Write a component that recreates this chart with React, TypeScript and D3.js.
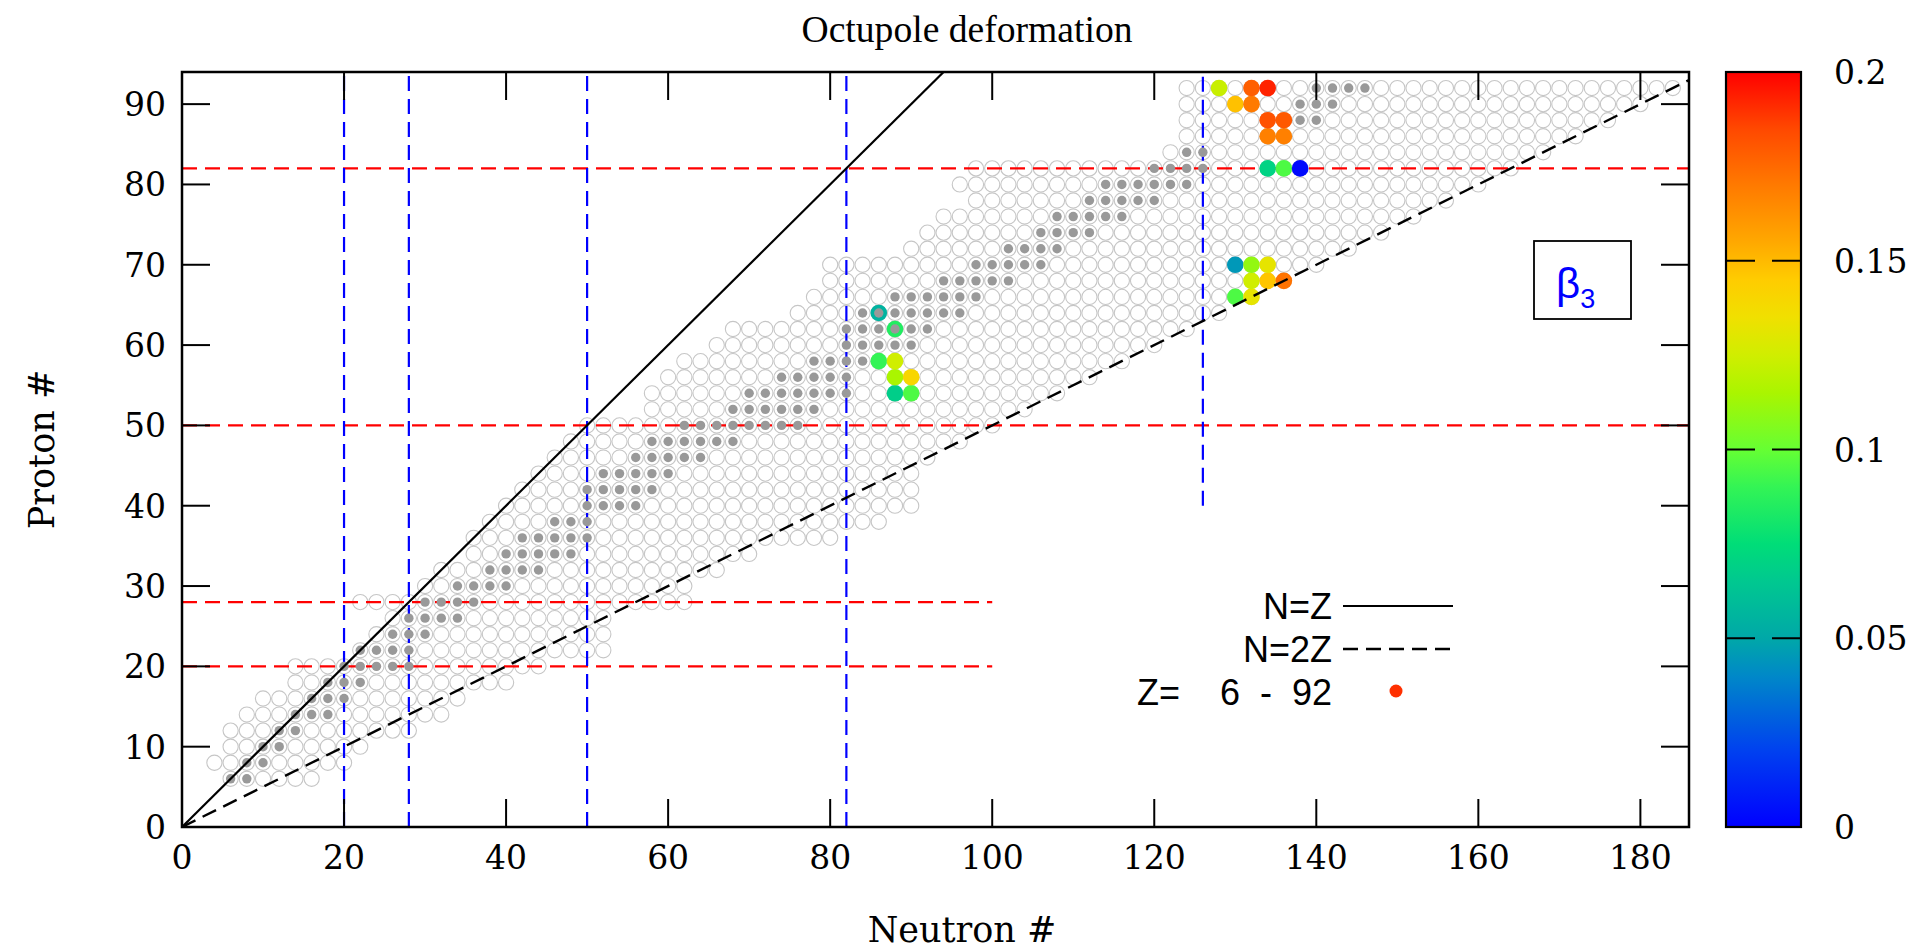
import React from 'react';
import * as d3 from 'd3';

// ---------- DATA ----------
const Z_VALUES = [6, 8, 10, 12, 14, 16, 18, 20, 22, 24, 26, 28, 30, 32, 34, 36, 38, 40, 42, 44, 46, 48, 50, 52, 54, 56, 58, 60, 62, 64, 66, 68, 70, 72, 74, 76, 78, 80, 82, 84, 86, 88, 90, 92];
const N_MIN = [6, 4, 6, 6, 8, 10, 14, 14, 22, 24, 26, 22, 30, 32, 36, 36, 38, 40, 42, 44, 46, 48, 50, 58, 58, 60, 62, 66, 68, 76, 78, 80, 80, 90, 92, 94, 98, 96, 98, 122, 124, 124, 124, 124];
const N_MAX = [16, 20, 22, 28, 32, 34, 40, 44, 52, 52, 52, 62, 62, 66, 70, 80, 86, 90, 90, 90, 92, 96, 100, 104, 108, 112, 116, 120, 124, 128, 132, 136, 140, 144, 148, 152, 156, 160, 164, 168, 172, 176, 180, 184];
const STABLE_N: number[][] = [
  [6, 8], [8, 10], [10, 12], [12, 14], [14, 16, 18], [16, 18, 20], [18, 20, 22],
  [20, 22, 24, 26, 28], [22, 24, 26, 28], [26, 28, 30], [28, 30, 32, 34], [30, 32, 34, 36],
  [34, 36, 38, 40], [38, 40, 42, 44], [40, 42, 44, 46, 48], [42, 44, 46, 48, 50], [46, 48, 50],
  [50, 52, 54, 56], [50, 52, 54, 56, 58], [52, 54, 56, 58, 60], [56, 58, 60, 62, 64],
  [58, 60, 62, 64, 66, 68], [62, 64, 66, 68, 70, 72, 74, 76], [68, 70, 72, 74, 76, 78],
  [70, 72, 74, 76, 78, 80, 82], [74, 76, 78, 80, 82], [78, 80, 82, 84], [82, 84, 86, 88, 90],
  [82, 84, 86, 88, 90, 92], [84, 86, 88, 90, 92, 94, 96], [88, 90, 92, 94, 96, 98],
  [94, 96, 98, 100, 102], [98, 100, 102, 104, 106], [102, 104, 106, 108], [106, 108, 110, 112],
  [108, 110, 112, 114, 116], [112, 114, 116, 118, 120], [114, 116, 118, 120, 122, 124],
  [120, 122, 124, 126], [124, 126], [], [138, 140], [138, 140, 142], [140, 142, 144, 146],
];

const BETA3_Z = [54, 54, 56, 56, 58, 58, 62, 64, 66, 66, 68, 68, 68, 70, 70, 70, 82, 82, 82, 86, 86, 88, 88, 90, 90, 92, 92, 92];
const BETA3_N = [88, 90, 88, 90, 86, 88, 88, 86, 130, 132, 132, 134, 136, 130, 132, 134, 134, 136, 138, 134, 136, 134, 136, 130, 132, 128, 132, 134];
const BETA3_VAL = [0.068, 0.095, 0.115, 0.14, 0.09, 0.125, 0.085, 0.055, 0.095, 0.132, 0.125, 0.147, 0.172, 0.045, 0.11, 0.132, 0.07, 0.095, 0.003, 0.168, 0.168, 0.182, 0.18, 0.148, 0.17, 0.123, 0.178, 0.193];

const X_TICKS = [0, 20, 40, 60, 80, 100, 120, 140, 160, 180];
const Y_TICKS = [0, 10, 20, 30, 40, 50, 60, 70, 80, 90];
const CB_TICKS = [0, 0.05, 0.1, 0.15, 0.2];
const CB_TICK_LABELS = ['0', '0.05', '0.1', '0.15', '0.2'];
const CB_STOPS = [0, 0.02, 0.04, 0.05, 0.065, 0.075, 0.09, 0.1, 0.115, 0.125, 0.135, 0.145, 0.155, 0.17, 0.185, 0.2];
const CB_COLORS = ['#0000ff', '#0040f0', '#0088c8', '#00a8a8', '#00c890', '#00dd78', '#33f455', '#66ff33', '#aaf500', '#d0ee00', '#f0e000', '#ffcc00', '#ffa800', '#ff7a00', '#ff4800', '#ff0000'];

const MAGIC_Z_FULL = [50, 82];
const MAGIC_Z_PART = [20, 28];
const MAGIC_Z_PART_END = 100;
const MAGIC_N_FULL = [20, 28, 50, 82];
const MAGIC_N_PART = [126];
const MAGIC_N_PART_START = 40;

const LEGEND_LABELS = ['N=Z', 'N=2Z', 'Z=    6  -  92'];

export default function App() {
  const W = 1920, H = 949;
  const L = 182, R = 1689, T = 72, B = 827;
  const x = d3.scaleLinear().domain([0, 186]).range([L, R]);
  const y = d3.scaleLinear().domain([0, 94]).range([B, T]);
  const color = d3.scaleLinear<string>().domain(CB_STOPS).range(CB_COLORS).interpolate(d3.interpolateRgb);

  const open: { n: number; z: number }[] = [];
  Z_VALUES.forEach((z, i) => {
    for (let n = N_MIN[i]; n <= N_MAX[i]; n += 2) open.push({ n, z });
  });
  const stable: { n: number; z: number }[] = [];
  Z_VALUES.forEach((z, i) => STABLE_N[i].forEach((n) => stable.push({ n, z })));
  const colored = BETA3_Z.map((z, i) => ({ z, n: BETA3_N[i], v: BETA3_VAL[i] }));

  const line = d3.line<[number, number]>().x((d) => x(d[0])).y((d) => y(d[1]));

  const cbL = 1726, cbR = 1801;
  const cb = d3.scaleLinear().domain([0, 0.2]).range([B, T]);

  const serif = 'DejaVu Serif';
  const sans = 'Liberation Sans, Arial, sans-serif';
  const dash = '15,8';

  return (
    <svg width={W} height={H} style={{ position: 'fixed', left: 0, top: 0, background: '#fff' }}>
      <defs>
        <clipPath id="plotclip">
          <rect x={L} y={T} width={R - L} height={B - T} />
        </clipPath>
        <linearGradient id="cbgrad" x1="0" y1="1" x2="0" y2="0">
          {CB_STOPS.map((s, i) => (
            <stop key={i} offset={`${(s / 0.2) * 100}%`} stopColor={CB_COLORS[i]} />
          ))}
        </linearGradient>
      </defs>
      <rect x={0} y={0} width={W} height={H} fill="#fff" />

      <text x={967} y={42} fontFamily="Liberation Serif" fontSize={38} textAnchor="middle" textLength={331} lengthAdjust="spacingAndGlyphs">Octupole deformation</text>

      <g clipPath="url(#plotclip)">
        {open.map((d, i) => (
          <circle key={'o' + i} cx={x(d.n)} cy={y(d.z)} r={7.6} fill="none" stroke="#c6c6c6" strokeWidth={1.1} />
        ))}
        {MAGIC_Z_FULL.map((z) => (
          <line key={'zf' + z} x1={x(0)} x2={x(186)} y1={y(z)} y2={y(z)} stroke="#ff0000" strokeWidth={2.2} strokeDasharray={dash} />
        ))}
        {MAGIC_Z_PART.map((z) => (
          <line key={'zp' + z} x1={x(0)} x2={x(MAGIC_Z_PART_END)} y1={y(z)} y2={y(z)} stroke="#ff0000" strokeWidth={2.2} strokeDasharray={dash} />
        ))}
        {MAGIC_N_FULL.map((n) => (
          <line key={'nf' + n} x1={x(n)} x2={x(n)} y1={y(0)} y2={y(94)} stroke="#0000ff" strokeWidth={2.2} strokeDasharray={dash} />
        ))}
        {MAGIC_N_PART.map((n) => (
          <line key={'np' + n} x1={x(n)} x2={x(n)} y1={y(MAGIC_N_PART_START)} y2={y(94)} stroke="#0000ff" strokeWidth={2.2} strokeDasharray={dash} />
        ))}
        {colored.map((d, i) => (
          <circle key={'c' + i} cx={x(d.n)} cy={y(d.z)} r={8.3} fill={color(d.v)} />
        ))}
        {stable.map((d, i) => (
          <circle key={'s' + i} cx={x(d.n)} cy={y(d.z)} r={4.7} fill="#999999" />
        ))}
        <path d={line([[0, 0], [94, 94]]) || ''} stroke="#000" strokeWidth={2.2} fill="none" />
        <path d={line([[0, 0], [186, 93]]) || ''} stroke="#000" strokeWidth={2.4} fill="none" strokeDasharray={dash} />
      </g>

      {/* frame and ticks */}
      <rect x={L} y={T} width={R - L} height={B - T} fill="none" stroke="#000" strokeWidth={2.5} />
      {X_TICKS.map((t) => (
        <g key={'xt' + t}>
          <line x1={x(t)} x2={x(t)} y1={B} y2={B - 28} stroke="#000" strokeWidth={2} />
          <line x1={x(t)} x2={x(t)} y1={T} y2={T + 28} stroke="#000" strokeWidth={2} />
          <text x={x(t)} y={869} fontFamily={serif} fontSize={33} textAnchor="middle">{t}</text>
        </g>
      ))}
      {Y_TICKS.map((t) => (
        <g key={'yt' + t}>
          <line x1={L} x2={L + 28} y1={y(t)} y2={y(t)} stroke="#000" strokeWidth={2} />
          <line x1={R} x2={R - 28} y1={y(t)} y2={y(t)} stroke="#000" strokeWidth={2} />
          <text x={166} y={y(t) + 12} fontFamily={serif} fontSize={33} textAnchor="end">{t}</text>
        </g>
      ))}
      <text x={962} y={942} fontFamily={serif} fontSize={35} textAnchor="middle">Neutron #</text>
      <text transform={`translate(54,${(T + B) / 2}) rotate(-90)`} fontFamily={serif} fontSize={35} textAnchor="middle">Proton #</text>

      {/* legend */}
      <text x={1332} y={619} fontFamily={sans} fontSize={36} textAnchor="end">{LEGEND_LABELS[0]}</text>
      <line x1={1343} x2={1453} y1={606} y2={606} stroke="#000" strokeWidth={2.2} />
      <text x={1332} y={662} fontFamily={sans} fontSize={36} textAnchor="end">{LEGEND_LABELS[1]}</text>
      <line x1={1343} x2={1453} y1={649} y2={649} stroke="#000" strokeWidth={2.4} strokeDasharray={dash} />
      <text x={1332} y={705} fontFamily={sans} fontSize={36} textAnchor="end" xmlSpace="preserve" style={{ whiteSpace: 'pre' }}>{LEGEND_LABELS[2]}</text>
      <circle cx={1396} cy={691} r={6.5} fill={color(0.19)} />

      {/* beta3 box */}
      <rect x={1534} y={241} width={97} height={78} fill="#fff" stroke="#000" strokeWidth={1.8} />
      <text x={1556} y={298} fontFamily={sans} fontSize={42} fill="#0000ff">β<tspan fontSize={27} dy={10}>3</tspan></text>

      {/* colorbar */}
      <rect x={cbL} y={T} width={cbR - cbL} height={B - T} fill="url(#cbgrad)" stroke="#000" strokeWidth={2.2} />
      {CB_TICKS.map((t, i) => (
        <g key={'cb' + i}>
          <line x1={cbL} x2={cbL + 29} y1={cb(t)} y2={cb(t)} stroke="#000" strokeWidth={2} />
          <line x1={cbR} x2={cbR - 29} y1={cb(t)} y2={cb(t)} stroke="#000" strokeWidth={2} />
          <text x={1834} y={cb(t) + 12} fontFamily={serif} fontSize={33}>{CB_TICK_LABELS[i]}</text>
        </g>
      ))}
    </svg>
  );
}
